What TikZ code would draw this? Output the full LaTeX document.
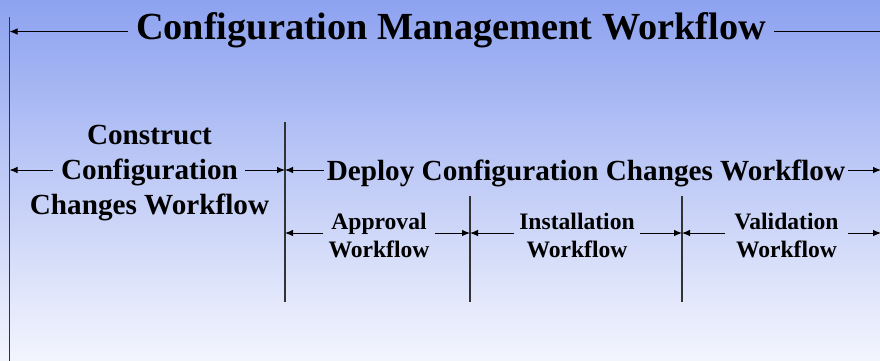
\documentclass[tikz,border=0pt]{standalone}
\usepackage{fontspec}
\setmainfont{Liberation Serif}
\usetikzlibrary{arrows.meta}
\definecolor{skytop}{RGB}{141,162,240}
\definecolor{skybot}{RGB}{243,245,253}
\begin{document}
\begin{tikzpicture}[x=1pt,y=-1pt,
  dim/.style={draw=black, line width=0.9pt, -{Latex[length=8pt,width=6.5pt]}},
  divider/.style={draw=black!80, line width=1.3pt},
  lvlA/.style={font=\fontsize{38.3}{46}\selectfont\bfseries, inner ysep=0pt, inner xsep=8pt},
  lvlB/.style={font=\fontsize{29.2}{35}\selectfont\bfseries, align=center, inner ysep=0pt, inner xsep=3pt},
  lvlC/.style={font=\fontsize{23.6}{28}\selectfont\bfseries, align=center, inner ysep=0pt, inner xsep=5pt}]

% background
\shade[top color=skytop, bottom color=skybot] (0,0) rectangle (880,360);
\useasboundingbox (0,0) rectangle (880,360);

% boundaries between the workflows
\coordinate (v0t) at (9.5,17);   \coordinate (v0b) at (9.5,362);
\coordinate (v1t) at (285,122);  \coordinate (v1b) at (285,302);
\coordinate (v2t) at (470,196);  \coordinate (v2b) at (470,302);
\coordinate (v3t) at (682,196);  \coordinate (v3b) at (682,302);
\coordinate (vr) at (881,0);
\draw[divider] (v0t) -- (v0b);
\draw[divider] (v1t) -- (v1b);
\draw[divider] (v2t) -- (v2b);
\draw[divider] (v3t) -- (v3b);

% heights of the dimension lines
\coordinate (yA) at (0,31.5);
\coordinate (yB) at (0,170);
\coordinate (yC) at (0,233);

% top level
\node[lvlA, anchor=base] (cm) at (451,39.5) {Configuration Management Workflow};
\draw[dim] (cm.west |- yA) -- (v0t |- yA);
\draw[dim] (cm.east |- yA) -- ([xshift=12pt]vr |- yA);

% second level
\node[lvlB] (construct) at (149.5,173) {Construct\\Configuration\\Changes Workflow};
\coordinate (cl) at (53,170);
\coordinate (cr) at (245,170);
\draw[dim] (cl) -- (v0t |- yB);
\draw[dim] (cr) -- (v1t |- yB);

\node[lvlB, anchor=base] (deploy) at (586,180) {Deploy Configuration Changes Workflow};
\draw[dim] (deploy.west |- yB) -- (v1t |- yB);
\draw[dim] (deploy.east |- yB) -- (vr |- yB);

% third level
\node[lvlC] (approval) at (379,235) {Approval\\Workflow};
\draw[dim] (approval.west |- yC) -- (v1t |- yC);
\draw[dim] (approval.east |- yC) -- (v2t |- yC);

\node[lvlC] (install) at (577,235) {Installation\\Workflow};
\draw[dim] (install.west |- yC) -- (v2t |- yC);
\draw[dim] (install.east |- yC) -- (v3t |- yC);

\node[lvlC, inner xsep=9pt] (valid) at (786.5,235) {Validation\\Workflow};
\draw[dim] (valid.west |- yC) -- (v3t |- yC);
\draw[dim] (valid.east |- yC) -- (vr |- yC);
\end{tikzpicture}
\end{document}
